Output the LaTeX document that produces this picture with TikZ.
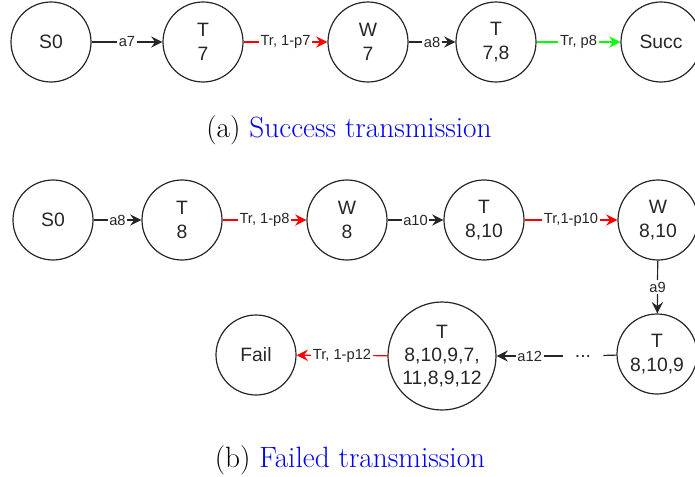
\documentclass[tikz,border=0pt]{standalone}
\usepackage{fontspec}
\newfontfamily\arialf{Liberation Sans}
\usetikzlibrary{arrows.meta}
\begin{document}
\begin{tikzpicture}[x=0.75pt,y=-0.75pt,
  st/.style={draw=black!85, line width=0.9pt, circle, minimum size=60pt, inner sep=0pt, align=center, font=\arialf\fontsize{14.5}{17.5}\selectfont, text=black!85},
  bigst/.style={st, minimum size=81pt},
  lbl/.style={fill=white, inner sep=1.2pt, font=\arialf\fontsize{11}{13}\selectfont, text=black!85},
  plain/.style={draw=black!85, line width=0.9pt},
  e/.style={plain, -{Stealth[length=8.5pt,width=8.5pt,inset=3pt]}},
  er/.style={e, draw=red},
  eg/.style={e, draw=green},
  capt/.style={font=\fontsize{22}{26}\selectfont, text=black}
]
\useasboundingbox (0,0) rectangle (695,477);
% (a)
\node[st] (a0) at (51,42) {S0};
\node[st] (a1) at (203,42) {T\\7};
\node[st] (a2) at (368,42) {W\\7};
\node[st] (a3) at (496,42) {T\\7,8};
\node[st] (a4) at (661,42) {Succ};
\draw[e] (a0) -- node[lbl]{a7} (a1);
\draw[er] (a1) -- node[lbl]{Tr, 1-p7} (a2);
\draw[e] (a2) -- node[lbl]{a8} (a3);
\draw[eg] (a3) -- node[lbl]{Tr, p8} (a4);
\node[capt] (capa) at (349,130) {(a)\ \textcolor{blue}{Success transmission}};
% (b)
\node[st] (b0) at (53,220) {S0};
\node[st] (b1) at (182,220) {T\\8};
\node[st] (b2) at (347,220) {W\\8};
\node[st] (b3) at (484,220) {T\\8,10};
\node[st] (b4) at (658,220) {W\\8,10};
\node[st] (b5) at (657,354) {T\\8,10,9};
\node[bigst] (b6) at (442,356) {T\\8,10,9,7,\\11,8,9,12};
\node[st] (b7) at (256,355) {Fail};
\node[inner sep=0pt, minimum width=30pt, minimum height=14pt, font=\arialf\fontsize{14.5}{17.5}\selectfont, text=black!85] (dots) at (583,356) {...};
\draw[e] (b0) -- node[lbl]{a8} (b1);
\draw[er] (b1) -- node[lbl]{Tr, 1-p8} (b2);
\draw[e] (b2) -- node[lbl]{a10} (b3);
\draw[er] (b3) -- node[lbl]{Tr,1-p10} (b4);
\draw[e] (b4) -- node[lbl]{a9} (b5);
\draw[plain] (b5) -- (dots);
\draw[e] (dots) -- node[lbl]{a12} (b6);
\draw[er] (b6) -- node[lbl]{Tr, 1-p12} (b7);
\node[capt] (capb) at (350,460) {(b)\ \textcolor{blue}{Failed transmission}};
\end{tikzpicture}
\end{document}
